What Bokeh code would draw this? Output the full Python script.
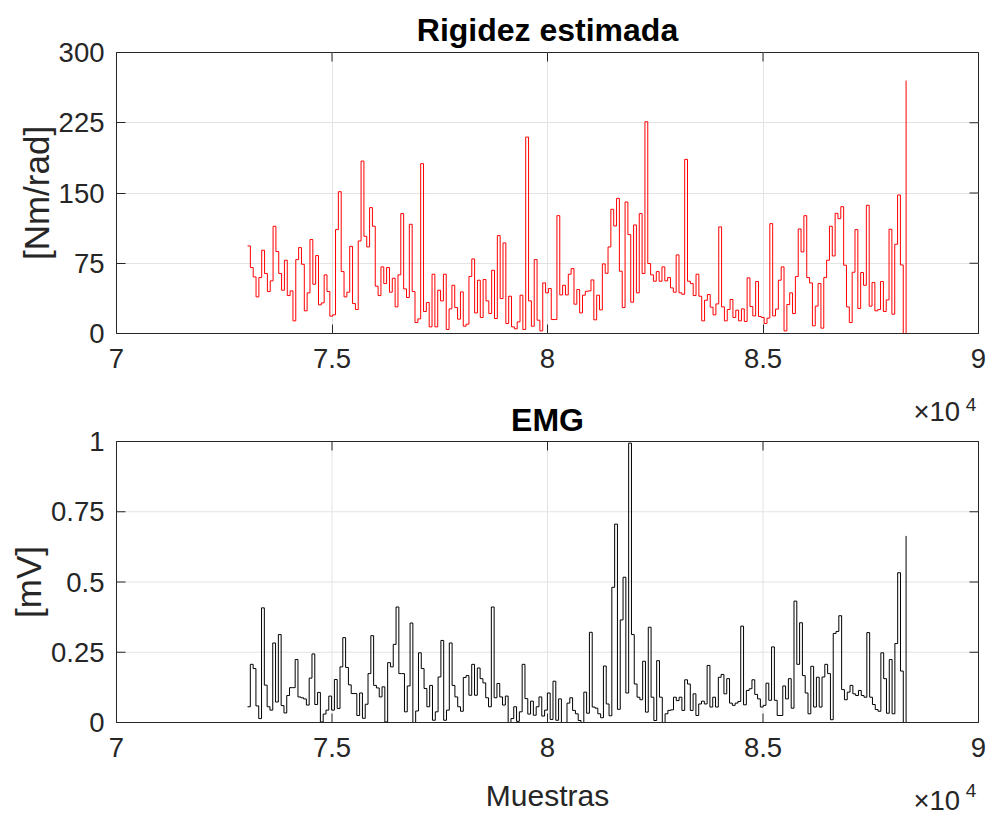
import numpy as np
from bokeh.plotting import figure
from bokeh.layouts import column
from bokeh.models import FixedTicker, Label, Range1d
from bokeh.core.properties import value
from bokeh.embed import file_html
from bokeh.resources import INLINE

# ---------------- data ----------------
sample_start = 73040
sample_end = 88320

x_ticks = [70000, 75000, 80000, 85000, 90000]
x_tick_labels = ["7", "7.5", "8", "8.5", "9"]
rig_ticks = [0, 75, 150, 225, 300]
emg_ticks = [0, 0.25, 0.5, 0.75, 1]
emg_tick_labels = ["0", "0.25", "0.5", "0.75", "1"]

rigidez = [
    93.5, 70.4, 60.4, 39.1, 59.7, 88.9, 64.0, 44.8, 56.2, 114.5, 87.5, 64.0, 46.2, 78.2, 40.5,
    45.5, 13.5, 78.9, 91.7, 73.9, 24.2, 43.4, 100.3, 52.6, 83.2, 30.6, 32.7, 62.6, 44.8, 18.5,
    19.9, 110.9, 151.4, 66.1, 39.1, 44.1, 93.1, 32.0, 25.6, 98.8, 184.1, 103.8, 92.4, 134.4,
    114.5, 50.5, 40.5, 71.1, 53.3, 70.4, 44.1, 59.0, 28.4, 62.6, 128.0, 47.6, 38.4,
    116.6, 44.8, 11.7, 15.6, 181.3, 23.5, 33.1, 7.1, 63.3, 7.1, 46.2, 34.8, 63.3, 4.3, 26.3,
    51.5, 27.7, 15.3, 44.4, 7.8, 10.0, 60.8, 79.6, 22.0, 56.9, 17.1, 57.6, 34.8, 21.3, 67.5,
    16.0, 104.5, 37.3, 96.7, 10.7, 39.8, 7.1, 5.0, 12.4, 40.9, 4.3, 209.7, 34.8, 7.8, 78.9,
    14.2, 2.8, 54.0, 43.4, 48.0, 14.9, 14.9, 125.8, 41.2, 51.5, 41.2,
    63.3, 69.3, 31.3, 46.9, 22.0, 40.9, 45.1, 45.5, 57.2, 14.6, 40.9, 25.2, 74.3, 64.3, 92.4,
    132.6, 114.8, 144.3, 66.5, 27.7, 140.4, 105.6, 33.4, 115.9, 43.4, 128.0, 64.0, 226.1, 74.7,
    62.6, 55.8, 66.1, 55.8, 71.1, 56.2, 59.7, 48.7, 44.1, 83.9, 43.4, 41.9, 185.9, 55.8, 53.3,
    40.5, 63.3, 39.8, 13.5, 35.5, 41.6, 28.1, 19.9, 31.6, 113.8, 28.4, 13.5, 25.6, 36.3, 17.1,
    24.9, 13.5, 26.3, 12.8, 59.4, 28.8, 18.8, 55.5, 18.1, 17.1, 10.7, 16.4, 117.3, 18.8, 26.0,
    56.9, 71.1, 2.8, 30.9, 43.4, 21.3, 60.8, 111.6, 87.1, 125.8, 59.7, 54.0, 8.2, 29.2, 53.3,
    5.7, 59.7, 78.2, 114.5, 82.8, 128.3, 122.6, 135.4, 72.9, 28.4, 11.7, 65.4, 110.9, 26.7,
    65.1, 51.5, 136.9, 29.2, 54.4, 24.2, 25.6, 55.5, 23.5, 35.9, 111.3, 20.6, 95.3, 147.9,
    73.2, 0.0, 270.0,
]

emg = [
    0.056, 0.207, 0.192, 0.059, 0.014, 0.408, 0.133, 0.056, 0.044, 0.283, 0.073, 0.313, 0.060,
    0.034, 0.096, 0.124, 0.124, 0.224, 0.091, 0.088, 0.084, 0.062, 0.158, 0.244, 0.064, 0.107,
    0.002, 0.030, 0.044, 0.094, 0.044, 0.153, 0.050, 0.198, 0.302, 0.196, 0.134, 0.103, 0.103,
    0.025, 0.105, 0.015, 0.065, 0.174, 0.309, 0.132, 0.123, 0.091, 0.127, 0.002, 0.213, 0.198,
    0.278, 0.411, 0.174, 0.174, 0.038,
    0.130, 0.354, 0.0, 0.041, 0.248, 0.192, 0.121, 0.056, 0.132, 0.008, 0.038, 0.162, 0.292,
    0.008, 0.044, 0.283, 0.132, 0.091, 0.056, 0.040, 0.160, 0.167, 0.097, 0.207, 0.097, 0.194,
    0.156, 0.141, 0.088, 0.056, 0.411, 0.088, 0.139, 0.091, 0.062, 0.094, 0.0, 0.014, 0.056,
    0.004, 0.038, 0.207, 0.085, 0.030, 0.076, 0.026, 0.056, 0.091, 0.023, 0.044, 0.105, 0.011,
    0.147, 0.008, 0.084, 0.0, 0.0,
    0.069, 0.088, 0.043, 0.031, 0.007, 0.0, 0.108, 0.033, 0.321, 0.055, 0.051, 0.031, 0.017,
    0.201, 0.066, 0.024, 0.481, 0.706, 0.047, 0.365, 0.517, 0.105, 0.994, 0.313, 0.137, 0.090,
    0.081, 0.218, 0.037, 0.339, 0.090, 0.007, 0.220, 0.090, 0.0, 0.031, 0.043, 0.045, 0.090,
    0.078, 0.090, 0.043, 0.152, 0.137, 0.043, 0.102, 0.025, 0.066, 0.076, 0.066, 0.203, 0.055,
    0.090, 0.055, 0.161, 0.171, 0.102,
    0.156, 0.069, 0.061, 0.069, 0.075, 0.343, 0.063, 0.114, 0.120, 0.152, 0.100, 0.084, 0.055,
    0.061, 0.140, 0.079, 0.269, 0.079, 0.025, 0.025, 0.130, 0.084, 0.156, 0.051, 0.432, 0.207,
    0.355, 0.167, 0.105, 0.031, 0.200, 0.055, 0.161, 0.055, 0.162, 0.207, 0.174, 0.010, 0.317,
    0.324, 0.380, 0.117, 0.081, 0.108, 0.132, 0.102, 0.096, 0.114, 0.096, 0.090, 0.320, 0.090,
    0.064, 0.046, 0.040, 0.248, 0.156, 0.033, 0.224, 0.031, 0.281, 0.533, 0.183, 0.0, 0.664,
]

x_rig = np.linspace(sample_start, sample_end, len(rigidez))
x_emg = np.linspace(sample_start, sample_end, len(emg))

FONT = "Liberation Sans"
TXT = "#262626"
GRID = "#e3e3e3"
TICK_FS = "27.5px"
XLAB_FS = "30px"
YLAB_FS = "35px"
TITLE_FS = "32px"

X0, X1 = x_ticks[0], x_ticks[-1]
FRAME_W, FRAME_H = 862, 281
LEFT, RIGHT = 116, 9
XSCALE = (X1 - X0) / FRAME_W          # samples per pixel


def axis_style(ax):
    ax.major_label_text_font = FONT
    ax.major_label_text_font_size = TICK_FS
    ax.major_label_text_color = TXT
    ax.axis_label_text_font = FONT
    ax.axis_label_text_font_size = YLAB_FS
    ax.axis_label_text_font_style = "normal"
    ax.axis_label_text_color = TXT
    ax.axis_line_color = TXT
    ax.major_tick_line_color = TXT
    ax.major_tick_in = 9
    ax.major_tick_out = 0
    ax.minor_tick_line_color = None


def box_ticks(p, yticks, ytop):
    # inward ticks on the top and right edges of the box
    p.ray(x=x_ticks, y=[ytop] * len(x_ticks), length=9, length_units="screen",
          angle=-np.pi / 2, line_color=TXT, line_width=1)
    p.ray(x=[X1] * len(yticks), y=yticks, length=9, length_units="screen",
          angle=np.pi, line_color=TXT, line_width=1)


# ---------------- top panel: Rigidez estimada ----------------
p1 = figure(frame_width=FRAME_W, frame_height=FRAME_H, min_border_left=LEFT,
            min_border_right=RIGHT, min_border_top=52, min_border_bottom=62,
            x_range=Range1d(X0, X1), y_range=Range1d(rig_ticks[0], rig_ticks[-1]),
            title="Rigidez estimada", output_backend="svg", toolbar_location=None)
p1.frame_align = False
p1.xaxis.ticker = FixedTicker(ticks=x_ticks)
p1.xaxis.major_label_overrides = dict(zip(x_ticks, x_tick_labels))
p1.yaxis.ticker = FixedTicker(ticks=rig_ticks)
axis_style(p1.xaxis[0])
axis_style(p1.yaxis[0])
p1.xaxis.major_label_standoff = 15
p1.yaxis.major_label_standoff = 12
p1.yaxis.axis_label = "[Nm/rad]"
p1.yaxis.axis_label_standoff = 0
p1.xgrid.grid_line_color = GRID
p1.ygrid.grid_line_color = GRID
p1.outline_line_color = TXT
p1.title.align = "center"
p1.title.text_font = FONT
p1.title.text_font_size = TITLE_FS
p1.title.text_font_style = "bold"
p1.title.text_color = "#000000"
p1.title.standoff = 9
box_ticks(p1, rig_ticks, rig_ticks[-1])
p1.step(x_rig, rigidez, mode="after", line_color="#ff0000", line_width=1)

# ---------------- bottom panel: EMG (its frame covers the whole canvas) ----------------
P2_W, P2_H = 987, 424
TOP_PAD, BOT_PAD = 46, 97              # pixels above y=1 and below y=0
YS = 1.0 / FRAME_H                     # mV per pixel
Y0, Y1 = emg_ticks[0], emg_ticks[-1]
p2 = figure(frame_width=P2_W, frame_height=P2_H, min_border=0,
            min_border_left=0, min_border_right=0, min_border_top=0, min_border_bottom=0,
            x_range=Range1d(X0 - LEFT * XSCALE, X1 + (P2_W - LEFT - FRAME_W) * XSCALE),
            y_range=Range1d(Y0 - BOT_PAD * YS, Y1 + TOP_PAD * YS),
            x_axis_location=None, y_axis_location=None,
            output_backend="svg", toolbar_location=None)
p2.frame_align = False
p2.outline_line_color = None
p2.grid.visible = False

nx, ny = len(x_ticks), len(emg_ticks)
# grid lines
p2.segment(x0=x_ticks, y0=[Y0] * nx, x1=x_ticks, y1=[Y1] * nx, line_color=GRID, line_width=1)
p2.segment(x0=[X0] * ny, y0=emg_ticks, x1=[X1] * ny, y1=emg_ticks, line_color=GRID, line_width=1)

p2.step(x_emg, emg, mode="after", line_color="#000000", line_width=1)

# axes box + inward ticks on all four sides
p2.segment(x0=[X0, X0, X0, X1], y0=[Y0, Y0, Y1, Y0], x1=[X1, X0, X1, X1], y1=[Y0, Y1, Y1, Y1],
           line_color=TXT, line_width=1)
p2.ray(x=x_ticks, y=[Y0] * nx, length=9, length_units="screen", angle=np.pi / 2,
       line_color=TXT, line_width=1)
p2.ray(x=[X0] * ny, y=emg_ticks, length=9, length_units="screen", angle=0,
       line_color=TXT, line_width=1)
box_ticks(p2, emg_ticks, Y1)

# tick labels
p2.text(x=x_ticks, y=[Y0 - 15 * YS] * nx, text=x_tick_labels, text_align="center",
        text_baseline="top", text_font=value(FONT), text_font_size=value(TICK_FS),
        text_color=TXT)
p2.text(x=[X0 - 12 * XSCALE] * ny, y=emg_ticks, text=emg_tick_labels, text_align="right",
        text_baseline="middle", text_font=value(FONT), text_font_size=value(TICK_FS),
        text_color=TXT)

XC = (X0 + X1) / 2
p2.add_layout(Label(x=XC, y=Y1 + 21.8 * YS, text="EMG", text_align="center",
                    text_baseline="alphabetic", text_font=FONT, text_font_size=TITLE_FS,
                    text_font_style="bold", text_color="#000000"))
p2.add_layout(Label(x=X0 - 88 * XSCALE, y=(Y0 + Y1) / 2, text="[mV]", text_align="center",
                    text_baseline="middle", angle=np.pi / 2, text_font=FONT,
                    text_font_size=YLAB_FS, text_color=TXT))
p2.add_layout(Label(x=XC, y=Y0 - 73 * YS, text="Muestras", text_align="center",
                    text_baseline="alphabetic", text_font=FONT, text_font_size=XLAB_FS,
                    text_color=TXT))

# exponent labels (x 10^4): one for each x axis
for yb, ye in ((Y1 + 29.8 * YS, Y1 + 37.5 * YS), (Y0 - 78.2 * YS, Y0 - 67.7 * YS)):
    p2.add_layout(Label(x=X1 - 18.4 * XSCALE, y=yb, text="×10", text_align="right",
                        text_baseline="alphabetic", text_font=FONT,
                        text_font_size=TICK_FS, text_color=TXT))
    p2.add_layout(Label(x=X1 - 12.7 * XSCALE, y=ye, text="4",
                        text_align="left", text_baseline="alphabetic", text_font=FONT,
                        text_font_size="19px", text_color=TXT))

layout = column(p1, p2, spacing=0)
open("out.html", "w").write(file_html(layout, INLINE))
